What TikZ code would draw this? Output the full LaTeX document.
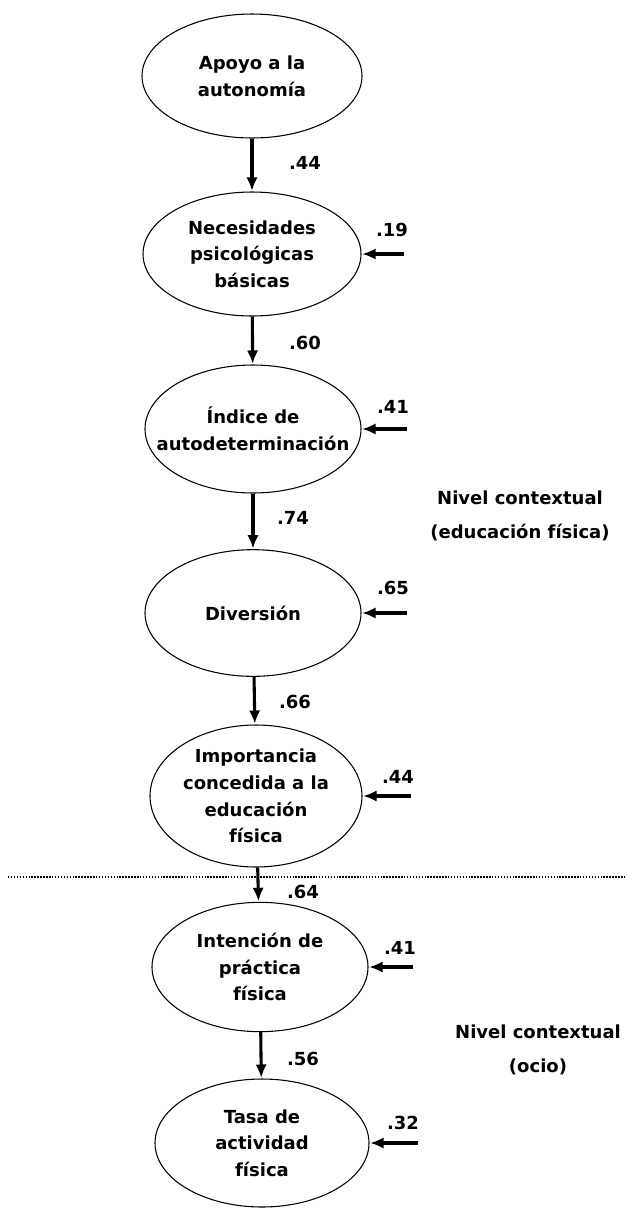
\documentclass[tikz,border=0pt]{standalone}
\usepackage{fontspec}
\setmainfont{DejaVu Sans}
\usepackage{tikz}
\usetikzlibrary{arrows.meta,positioning,shapes}
\tikzstyle{factor}=[draw, ellipse, line width=.8pt, inner sep=-20pt, align=center, font=\bfseries\fontsize{13.5}{20}\selectfont]
\tikzstyle{coef}=[inner sep=0pt, font=\bfseries\fontsize{13.5}{16}\selectfont]
\tikzstyle{effect}=[->, line width=2.3pt, shorten >=.5pt]

\begin{document}
\begin{tikzpicture}[>={Latex[length=10pt,width=8.5pt]},x=.75pt,y=-.75pt]
    \useasboundingbox (0,0) rectangle (626,1208);

    % Factors
    \draw (252,76) node[factor, minimum width=165pt, minimum height=93pt] (apoyo) {Apoyo a la\\autonomía};
    \draw (252,254) node[factor, minimum width=163.5pt, minimum height=93pt] (necesidades) {Necesidades\\psicológicas\\básicas};
    \draw (253,429) node[factor, minimum width=162pt, minimum height=96pt] (indice) {Índice de\\autodeterminación};
    \draw (253,613) node[factor, minimum width=162pt, minimum height=95pt] (diversion) {Diversión};
    \draw (256,796) node[factor, minimum width=159pt, minimum height=106.5pt] (importancia) {Importancia\\concedida a la\\educación\\física};
    \draw (260,967) node[factor, minimum width=162pt, minimum height=97pt] (intencion) {Intención de\\práctica\\física};
    \draw (262,1143) node[factor, minimum width=160.5pt, minimum height=96pt] (tasa) {Tasa de\\actividad\\física};

    % Paths
    \draw[effect] (apoyo) -- (necesidades);
    \draw[effect] (necesidades) -- (indice);
    \draw[effect] (indice) -- (diversion);
    \draw[effect] (diversion) -- (importancia);
    \draw[effect] (importancia) -- (intencion);
    \draw[effect] (intencion) -- (tasa);
    \draw (305,163) node[coef] (c1) {.44};
    \draw (305,343) node[coef] (c2) {.60};
    \draw (293,518) node[coef] (c3) {.74};
    \draw (295,702) node[coef] (c4) {.66};
    \draw (303,892) node[coef] (c5) {.64};
    \draw (303,1059) node[coef] (c6) {.56};

    % Residuals
    \coordinate[right=31.5pt of necesidades.east] (rnec);
    \coordinate[right=34pt of indice.east] (rind);
    \coordinate[right=34pt of diversion.east] (rdiv);
    \coordinate[right=36pt of importancia.east] (rimp);
    \coordinate[right=33pt of intencion.east] (rint);
    \coordinate[right=36pt of tasa.east] (rtas);
    \draw[effect] (rnec) -- (necesidades.east);
    \draw[effect] (rind) -- (indice.east);
    \draw[effect] (rdiv) -- (diversion.east);
    \draw[effect] (rimp) -- (importancia.east);
    \draw[effect] (rint) -- (intencion.east);
    \draw[effect] (rtas) -- (tasa.east);
    \draw (392,230) node[coef] (r1) {.19};
    \draw (393,407) node[coef] (r2) {.41};
    \draw (393,588) node[coef] (r3) {.65};
    \draw (398,777) node[coef] (r4) {.44};
    \draw (400,948) node[coef] (r5) {.41};
    \draw (403,1123) node[coef] (r6) {.32};

    % Levels
    \coordinate (sepl) at (8,877);
    \coordinate (sepr) at (626,877);
    \draw[line width=.8pt, dash pattern=on 1.1pt off 1.1pt] (sepl) -- (sepr);
    \draw (520,516) node[coef, align=center, font=\bfseries\fontsize{13.5}{25}\selectfont] (edfis) {Nivel contextual\\(educación física)};
    \draw (538,1050) node[coef, align=center, font=\bfseries\fontsize{13.5}{25}\selectfont] (ocio) {Nivel contextual\\(ocio)};

\end{tikzpicture}
\end{document}
